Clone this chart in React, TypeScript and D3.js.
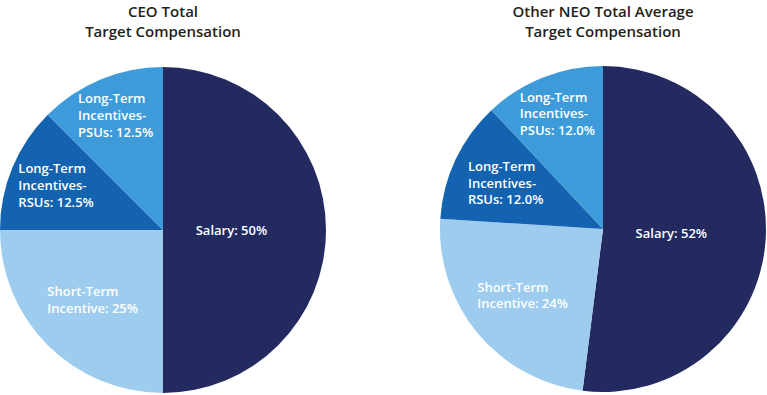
import React, { useEffect, useRef } from "react";
import * as d3 from "d3";

const categories = ["Salary", "Short-Term Incentive", "Long-Term Incentives-RSUs", "Long-Term Incentives-PSUs"];
const ceoValues = [50, 25, 12.5, 12.5];
const neoValues = [52, 24, 12, 12];
const ceoLabels = [["Salary: 50%"], ["Short-Term", "Incentive: 25%"], ["Long-Term", "Incentives-", "RSUs: 12.5%"], ["Long-Term", "Incentives-", "PSUs: 12.5%"]];
const neoLabels = [["Salary: 52%"], ["Short-Term", "Incentive: 24%"], ["Long-Term", "Incentives-", "RSUs: 12.0%"], ["Long-Term", "Incentives-", "PSUs: 12.0%"]];
const ceoTitle = ["CEO Total", "Target Compensation"];
const neoTitle = ["Other NEO Total Average", "Target Compensation"];

const colors = ["#232a60", "#9dccee", "#1363b0", "#3d9bd9"];
const ceoLabelR = [0.42, 0.61, 0.71, 0.76];
const neoLabelR = [0.42, 0.64, 0.66, 0.76];

const W = 767;
const H = 395;
const FONT = "'Open Sans', Lato, sans-serif";

export default function App() {
  const ref = useRef<SVGSVGElement | null>(null);

  useEffect(() => {
    document.body.style.margin = "0";
    const svg = d3.select(ref.current);
    svg.selectAll("*").remove();
    const r = 163;
    const pies = [
      { cx: 163, cy: 230, values: ceoValues, labels: ceoLabels, title: ceoTitle, lr: ceoLabelR },
      { cx: 603, cy: 229, values: neoValues, labels: neoLabels, title: neoTitle, lr: neoLabelR },
    ];
    const pie = d3.pie<number>().sort(null).value((d) => d);
    const arc = d3.arc<d3.PieArcDatum<number>>().innerRadius(0).outerRadius(r);

    pies.forEach((p) => {
      const g = svg.append("g").attr("transform", `translate(${p.cx},${p.cy})`);
      const arcs = pie(p.values);
      g.selectAll("path.slice")
        .data(arcs)
        .enter()
        .append("path")
        .attr("class", "slice")
        .attr("d", arc)
        .attr("fill", (_d, i) => colors[i]);

      arcs.forEach((a, i) => {
        const la = d3.arc<d3.PieArcDatum<number>>().innerRadius(r * p.lr[i]).outerRadius(r * p.lr[i]);
        const [x, y] = la.centroid(a);
        const lines = p.labels[i];
        const lh = 16.8;
        const t = g
          .append("text")
          .attr("font-family", FONT)
          .attr("font-weight", 600)
          .attr("font-size", 13)
          .attr("fill", "#ffffff");
        lines.forEach((ln, j) => {
          t.append("tspan")
            .attr("x", 0)
            .attr("y", (j - (lines.length - 1) / 2) * lh + 4.5)
            .text(ln);
        });
        const bb = (t.node() as SVGTextElement).getBBox();
        t.attr("transform", `translate(${x - bb.width / 2},${y})`);
      });

      svg
        .append("text")
        .attr("x", p.cx)
        .attr("text-anchor", "middle")
        .attr("font-family", FONT)
        .attr("font-weight", 600)
        .attr("font-size", 15)
        .attr("fill", "#231f20")
        .selectAll("tspan")
        .data(p.title)
        .enter()
        .append("tspan")
        .attr("x", p.cx)
        .attr("y", (_d, j) => 16.5 + j * 20.8)
        .text((d) => d);
    });
  }, []);

  return (
    <svg
      ref={ref}
      width={W}
      height={H}
      viewBox={`0 0 ${W} ${H}`}
      style={{ position: "absolute", left: 0, top: 0, background: "#ffffff" }}
    />
  );
}
